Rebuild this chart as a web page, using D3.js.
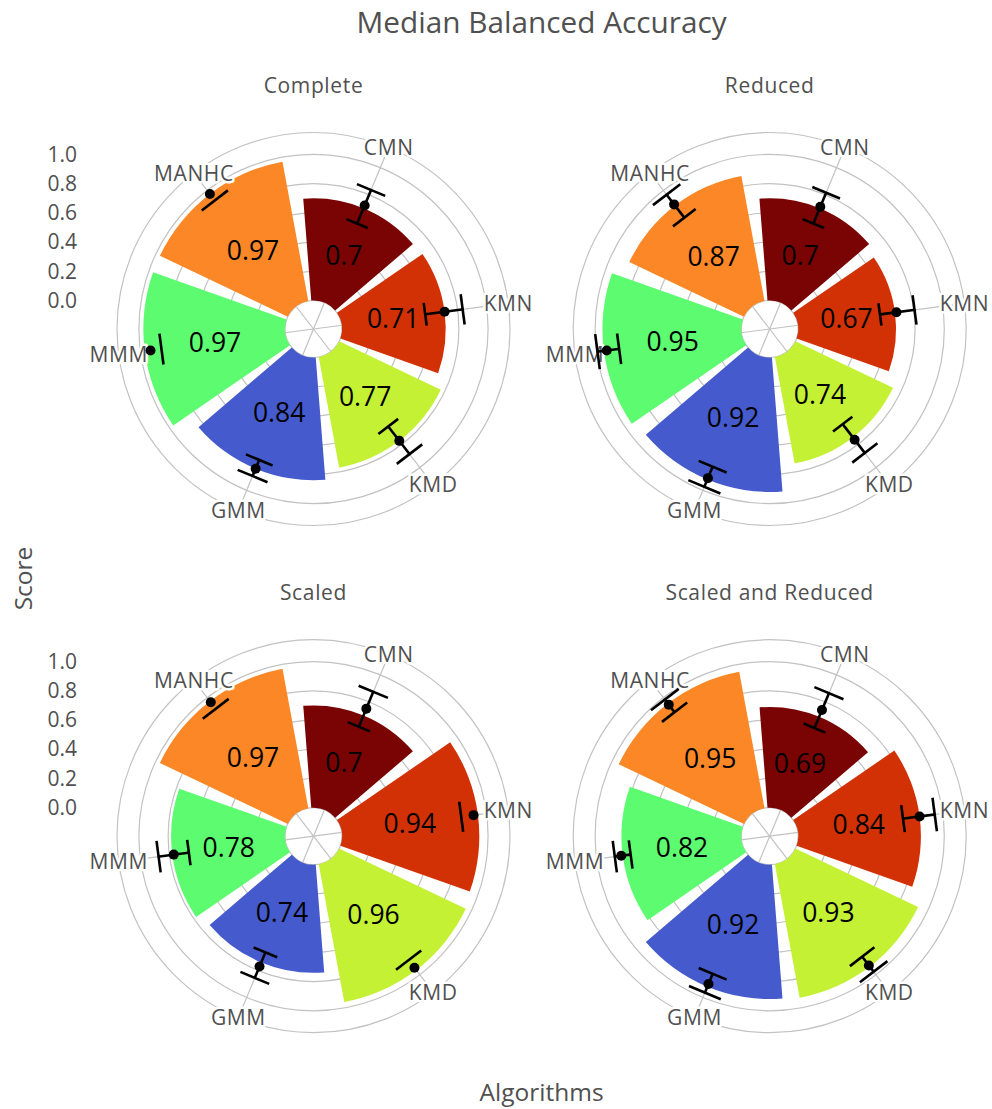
<!DOCTYPE html>
<html>
<head>
<meta charset="utf-8">
<script src="https://cdn.jsdelivr.net/npm/d3@7"></script>
<style>
  html, body { margin: 0; padding: 0; background: #fff; }
  svg { display: block; font-family: "Open Sans", "Noto Sans", sans-serif; }
</style>
</head>
<body>
<svg id="chart" width="992" height="1109"></svg>
<script>
// ---- data -------------------------------------------------------------
const algorithms  = ["CMN", "KMN", "KMD", "GMM", "MMM", "MANHC"];
const barColors   = ["#7a0403", "#d23105", "#c4f134", "#455bcd", "#5dfc70", "#fb8726"];
const panelTitles = ["Complete", "Reduced", "Scaled", "Scaled and Reduced"];
const radialTicks = [0, 0.2, 0.4, 0.6, 0.8, 1.0];

// median (bar), mean (dot) and spread (whisker ends); null = end not drawn
const medianComplete = [0.70, 0.71, 0.77, 0.84, 0.97, 0.97];
const meanComplete   = [0.72, 0.71, 0.77, 0.84, 0.93, 0.97];
const lowComplete    = [0.59, 0.58, 0.65, 0.78, 0.86, 0.92];
const highComplete   = [0.84, 0.84, 0.89, 0.90, null, null];

const medianReduced  = [0.70, 0.67, 0.74, 0.92, 0.95, 0.87];
const meanReduced    = [0.71, 0.68, 0.76, 0.91, 0.93, 0.88];
const lowReduced     = [0.59, 0.57, 0.63, 0.83, 0.85, 0.77];
const highReduced    = [0.82, 0.81, 0.88, 0.98, 1.00, 0.97];

const medianScaled   = [0.70, 0.94, 0.96, 0.74, 0.78, 0.97];
const meanScaled     = [0.75, 0.91, 0.94, 0.77, 0.77, 0.96];
const lowScaled      = [0.62, 0.83, 0.88, 0.67, 0.67, 0.91];
const highScaled     = [0.88, null, null, 0.86, 0.88, null];

const medianScaledReduced = [0.69, 0.84, 0.93, 0.92, 0.82, 0.95];
const meanScaledReduced   = [0.74, 0.84, 0.92, 0.90, 0.83, 0.94];
const lowScaledReduced    = [0.61, 0.73, 0.85, 0.83, 0.77, 0.88];
const highScaledReduced   = [0.87, 0.95, 0.98, 0.97, 0.88, 0.99];

const panels = [
  { title: panelTitles[0], median: medianComplete, mean: meanComplete, low: lowComplete, high: highComplete },
  { title: panelTitles[1], median: medianReduced, mean: meanReduced, low: lowReduced, high: highReduced },
  { title: panelTitles[2], median: medianScaled, mean: meanScaled, low: lowScaled, high: highScaled },
  { title: panelTitles[3], median: medianScaledReduced, mean: meanScaledReduced, low: lowScaledReduced, high: highScaledReduced }
];

// ---- layout -----------------------------------------------------------
const colX = [313.5, 769.7];
const rowY = [329, 836.2];
const titleY = [93, 600];
const R = 196.5, hole = 28.5;
const textColor = "#505050";
const gridColor = "#c2c2c2";
const deg = Math.PI / 180;

const svg = d3.select("#chart");

const r = d3.scaleLinear().domain([0, 1.15]).range([hole, R]);
const theta = d3.scaleBand()
  .domain(algorithms)
  .range([-7.5 * deg, 352.5 * deg])
  .paddingInner(0.1)
  .paddingOuter(0.05);
const mid = c => theta(c) + theta.bandwidth() / 2;
const pt = (v, a) => [r(v) * Math.sin(a), -r(v) * Math.cos(a)];
const ptR = (rad, a) => [rad * Math.sin(a), -rad * Math.cos(a)];
const capHalf = 5.8 * deg;

const arc = d3.arc()
  .innerRadius(hole)
  .outerRadius(d => r(d.value))
  .startAngle(d => theta(d.name))
  .endAngle(d => theta(d.name) + theta.bandwidth());

// main title and axis titles
svg.append("text")
  .attr("x", 541.6).attr("y", 33)
  .attr("text-anchor", "middle")
  .attr("fill", textColor)
  .style("font-size", "29.75px")
  .text("Median Balanced Accuracy");

svg.append("text")
  .attr("x", 541.6).attr("y", 1101)
  .attr("text-anchor", "middle")
  .attr("fill", textColor)
  .style("font-size", "24.5px")
  .text("Algorithms");

svg.append("text")
  .attr("transform", "translate(32,578.5) rotate(-90)")
  .attr("text-anchor", "middle")
  .attr("fill", textColor)
  .style("font-size", "24.5px")
  .text("Score");

panels.forEach((p, i) => {
  const col = i % 2, row = Math.floor(i / 2);
  const cx = colX[col], cy = rowY[row];

  svg.append("text")
    .attr("x", cx).attr("y", titleY[row])
    .attr("text-anchor", "middle")
    .attr("fill", textColor)
    .style("font-size", "21px")
    .style("letter-spacing", "0.65px")
    .text(p.title);

  const g = svg.append("g").attr("transform", `translate(${cx},${cy})`);

  // radial grid circles and the outer frame
  g.append("g").selectAll("circle")
    .data([...radialTicks, r.domain()[1]])
    .join("circle")
    .attr("r", d => r(d))
    .attr("fill", "none")
    .attr("stroke", gridColor)
    .attr("stroke-width", 1.2);

  // angular grid spokes
  g.append("g").selectAll("line")
    .data(algorithms)
    .join("line")
    .attr("x1", 0).attr("y1", 0)
    .attr("x2", d => ptR(R, mid(d))[0])
    .attr("y2", d => ptR(R, mid(d))[1])
    .attr("stroke", gridColor)
    .attr("stroke-width", 1.2);

  const rows = algorithms.map((name, k) => ({
    name, color: barColors[k], value: p.median[k],
    mean: p.mean[k], low: p.low[k], high: p.high[k]
  }));

  // bars
  g.append("g").selectAll("path")
    .data(rows)
    .join("path")
    .attr("d", arc)
    .attr("fill", d => d.color);

  // value labels inside bars
  g.append("g").selectAll("text")
    .data(rows)
    .join("text")
    .attr("x", d => ptR((hole + r(d.value)) / 2, mid(d.name))[0])
    .attr("y", d => ptR((hole + r(d.value)) / 2, mid(d.name))[1])
    .attr("dy", "0.36em")
    .attr("text-anchor", "middle")
    .attr("fill", "#000")
    .style("font-size", "26.5px")
    .text(d => `${d.value}`);

  // angular tick labels
  g.append("g").selectAll("text")
    .data(algorithms)
    .join("text")
    .attr("x", d => ptR(R, mid(d))[0])
    .attr("y", d => ptR(R, mid(d))[1])
    .attr("dy", "0.36em")
    .attr("text-anchor", "middle")
    .attr("fill", textColor)
    .attr("stroke", "#fff")
    .attr("stroke-width", 5)
    .attr("stroke-linejoin", "round")
    .attr("paint-order", "stroke")
    .style("font-size", "21px")
    .style("letter-spacing", "0.6px")
    .text(d => d);

  // whiskers: lower cap always, stem + upper cap when the upper end exists
  const eb = g.append("g")
    .attr("stroke", "#000")
    .attr("stroke-width", 2.6)
    .attr("fill", "none");
  rows.forEach(d => {
    const a = mid(d.name);
    const cap = v => {
      const [x1, y1] = pt(v, a - capHalf);
      const [x2, y2] = pt(v, a + capHalf);
      eb.append("line").attr("x1", x1).attr("y1", y1).attr("x2", x2).attr("y2", y2);
    };
    cap(d.low);
    if (d.high !== null) {
      const [x1, y1] = pt(d.low, a);
      const [x2, y2] = pt(d.high, a);
      eb.append("line").attr("x1", x1).attr("y1", y1).attr("x2", x2).attr("y2", y2);
      cap(d.high);
    }
  });

  // mean markers
  g.append("g").selectAll("circle")
    .data(rows)
    .join("circle")
    .attr("cx", d => pt(d.mean, mid(d.name))[0])
    .attr("cy", d => pt(d.mean, mid(d.name))[1])
    .attr("r", 5)
    .attr("fill", "#000");

  // radial tick labels on the left column only
  if (col === 0) {
    const yScale = d3.scaleLinear().domain(r.domain()).range([cy - hole, cy - R]);
    const axis = d3.axisLeft(yScale)
      .tickValues(radialTicks)
      .tickFormat(d3.format(".1f"))
      .tickSize(0)
      .tickPadding(0);
    const ag = svg.append("g").attr("transform", "translate(77,0)").call(axis);
    ag.select(".domain").remove();
    ag.selectAll("text")
      .attr("fill", textColor)
      .style("font-size", "21px")
      .style("font-family", "'Open Sans', 'Noto Sans', sans-serif");
  }
});
</script>
</body>
</html>
